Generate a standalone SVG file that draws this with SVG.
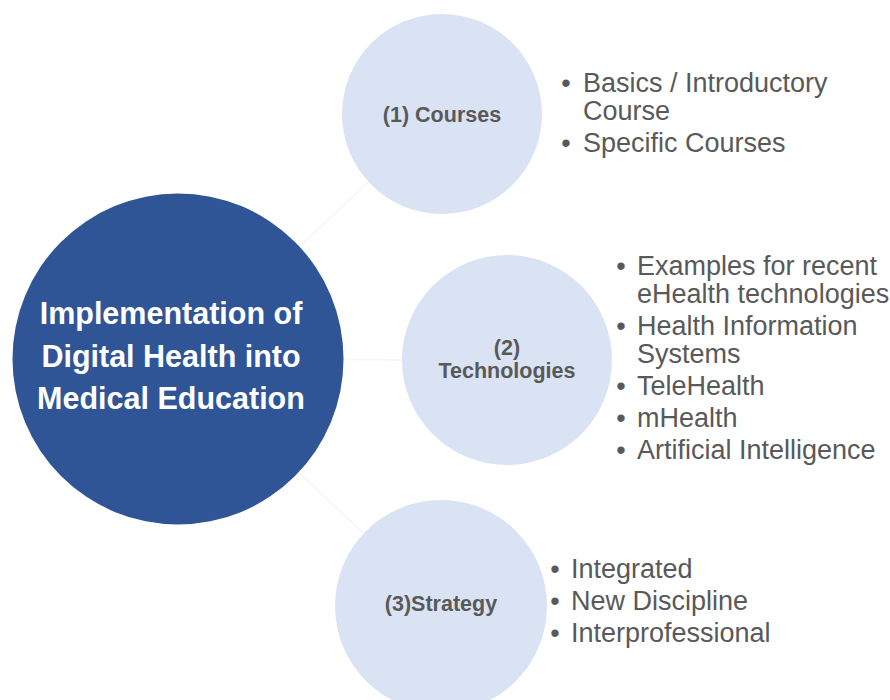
<svg xmlns="http://www.w3.org/2000/svg" width="890" height="700" viewBox="0 0 890 700">
<style>
.main{fill:#2F5597}
.sub{fill:#DAE3F3}
.conn{stroke:#F6F6F6;stroke-width:1.5;fill:none}
.mt{font-family:"Liberation Sans",Arial,sans-serif;font-weight:bold;font-size:30.5px;fill:#FFFFFF;text-anchor:middle}
.st{font-family:"Liberation Sans",Arial,sans-serif;font-weight:bold;font-size:21.5px;fill:#595959;text-anchor:middle}
.bt{font-family:"Liberation Sans",Arial,sans-serif;font-size:27px;fill:#595959}
.bu{font-family:"Liberation Sans",Arial,sans-serif;font-size:27px;fill:#595959;text-anchor:middle}
</style>
<rect width="890" height="700" fill="#FFFFFF"/>
<g id="connectors">
<line class="conn" x1="299.3" y1="246.5" x2="368.7" y2="182"/>
<line class="conn" x1="343.5" y1="359.5" x2="402" y2="360"/>
<line class="conn" x1="298.6" y1="472.3" x2="363.7" y2="533.4"/>
</g>
<g id="main">
<circle class="main" cx="178" cy="359" r="165.5"/>
<text class="mt" x="171" y="324">Implementation of</text>
<text class="mt" x="171" y="366.5">Digital Health into</text>
<text class="mt" x="171" y="409">Medical Education</text>
</g>
<g id="courses">
<circle class="sub" cx="442" cy="114" r="100"/>
<text class="st" x="442" y="122">(1) Courses</text>
</g>
<g id="courses-list">
<text class="bu" x="566" y="92">•</text>
<text class="bt" x="583" y="92">Basics / Introductory</text>
<text class="bt" x="583" y="120">Course</text>
<text class="bu" x="566" y="152">•</text>
<text class="bt" x="583" y="152">Specific Courses</text>
</g>
<g id="technologies">
<circle class="sub" cx="507" cy="360" r="105"/>
<text class="st" x="507" y="355">(2)</text>
<text class="st" x="507" y="378">Technologies</text>
</g>
<g id="technologies-list">
<text class="bu" x="621" y="275">•</text>
<text class="bt" x="637" y="275">Examples for recent</text>
<text class="bt" x="637" y="303">eHealth technologies</text>
<text class="bu" x="621" y="335">•</text>
<text class="bt" x="637" y="335">Health Information</text>
<text class="bt" x="637" y="363">Systems</text>
<text class="bu" x="621" y="395">•</text>
<text class="bt" x="637" y="395">TeleHealth</text>
<text class="bu" x="621" y="427">•</text>
<text class="bt" x="637" y="427">mHealth</text>
<text class="bu" x="621" y="459">•</text>
<text class="bt" x="637" y="459">Artificial Intelligence</text>
</g>
<g id="strategy">
<circle class="sub" cx="441" cy="606" r="106"/>
<text class="st" x="441" y="611">(3)Strategy</text>
</g>
<g id="strategy-list">
<text class="bu" x="555" y="578">•</text>
<text class="bt" x="571" y="578">Integrated</text>
<text class="bu" x="555" y="610">•</text>
<text class="bt" x="571" y="610">New Discipline</text>
<text class="bu" x="555" y="642">•</text>
<text class="bt" x="571" y="642">Interprofessional</text>
</g>
</svg>
